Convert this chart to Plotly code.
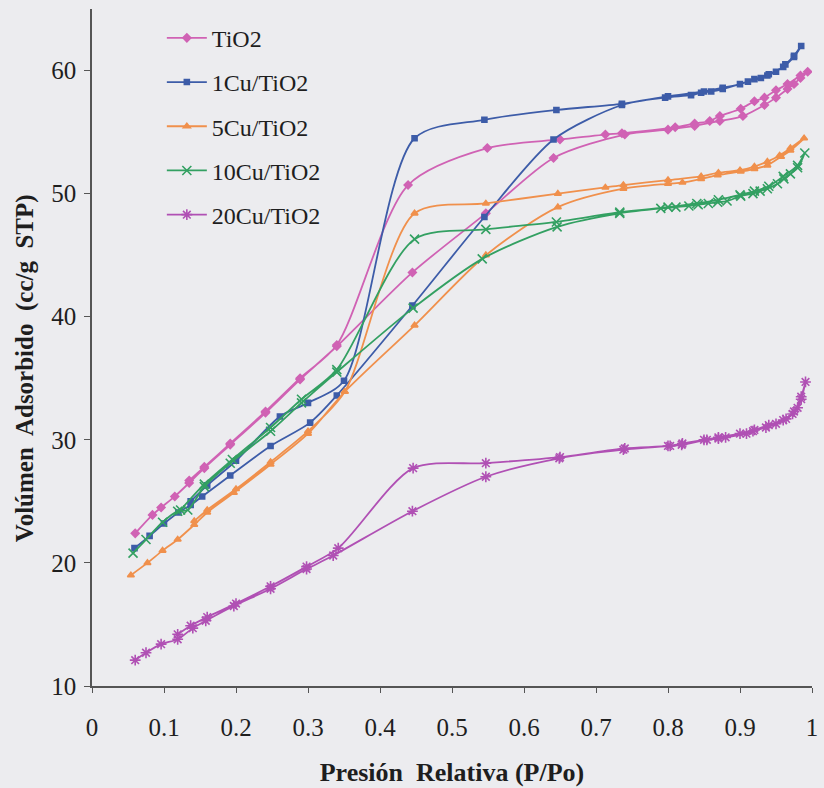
import plotly.graph_objects as go

# ---------------- data ----------------
names = ["TiO2", "1Cu/TiO2", "5Cu/TiO2", "10Cu/TiO2", "20Cu/TiO2"]

# TiO2
tio2_x_ads = [0.06, 0.084, 0.096, 0.115, 0.135, 0.156, 0.192, 0.241, 0.289, 0.34, 0.445, 0.547, 0.641, 0.74, 0.80, 0.837, 0.872, 0.904, 0.934, 0.95, 0.966, 0.975, 0.984, 0.994]
tio2_y_ads = [22.4, 23.9, 24.5, 25.4, 26.5, 27.7, 29.6, 32.2, 34.9, 37.6, 43.6, 48.4, 52.9, 54.8, 55.2, 55.5, 55.9, 56.3, 57.2, 57.8, 58.5, 58.9, 59.4, 59.9]
tio2_x_des = [0.984, 0.966, 0.95, 0.934, 0.92, 0.901, 0.872, 0.858, 0.837, 0.81, 0.736, 0.713, 0.65, 0.549, 0.439, 0.34, 0.289, 0.241, 0.192, 0.156, 0.135]
tio2_y_des = [59.6, 58.9, 58.4, 57.8, 57.5, 56.9, 56.3, 55.9, 55.7, 55.4, 54.9, 54.8, 54.4, 53.7, 50.7, 37.7, 35.0, 32.3, 29.7, 27.8, 26.7]

# 1Cu/TiO2
cu1_x_ads = [0.059, 0.08, 0.1, 0.12, 0.137, 0.153, 0.192, 0.248, 0.303, 0.34, 0.445, 0.545, 0.641, 0.736, 0.796, 0.832, 0.846, 0.86, 0.876, 0.911, 0.929, 0.938, 0.95, 0.963, 0.975, 0.985]
cu1_y_ads = [21.2, 22.2, 23.2, 24.1, 24.7, 25.4, 27.1, 29.5, 31.4, 33.6, 40.9, 48.1, 54.4, 57.2, 57.8, 58.0, 58.2, 58.3, 58.5, 59.1, 59.4, 59.6, 59.9, 60.5, 61.2, 62.0]
cu1_x_des = [0.975, 0.96, 0.94, 0.92, 0.90, 0.876, 0.85, 0.80, 0.736, 0.645, 0.545, 0.448, 0.35, 0.30, 0.261, 0.2, 0.16, 0.137]
cu1_y_des = [61.1, 60.3, 59.7, 59.3, 58.9, 58.6, 58.3, 57.9, 57.3, 56.8, 56.0, 54.5, 34.8, 33.0, 31.9, 28.3, 26.3, 25.0]

# 5Cu/TiO2
cu5_x_ads = [0.054, 0.077, 0.098, 0.119, 0.142, 0.16, 0.197, 0.248, 0.30, 0.351, 0.448, 0.547, 0.647, 0.738, 0.80, 0.82, 0.846, 0.869, 0.901, 0.92, 0.938, 0.957, 0.97, 0.989]
cu5_y_ads = [19.0, 20.0, 21.0, 21.9, 23.1, 24.1, 25.7, 28.0, 30.5, 33.9, 39.3, 45.0, 48.9, 50.4, 50.8, 50.9, 51.2, 51.5, 51.8, 52.0, 52.3, 53.0, 53.5, 54.5]
cu5_x_des = [0.97, 0.955, 0.938, 0.92, 0.90, 0.87, 0.846, 0.80, 0.738, 0.713, 0.647, 0.547, 0.448, 0.351, 0.30, 0.248, 0.2, 0.16, 0.142]
cu5_y_des = [53.7, 53.1, 52.6, 52.2, 51.9, 51.7, 51.4, 51.1, 50.7, 50.5, 50.0, 49.2, 48.4, 33.9, 30.7, 28.2, 26.0, 24.3, 23.4]

# 10Cu/TiO2
cu10_x_ads = [0.057, 0.075, 0.098, 0.119, 0.133, 0.156, 0.192, 0.248, 0.291, 0.34, 0.446, 0.542, 0.646, 0.733, 0.79, 0.811, 0.829, 0.842, 0.856, 0.869, 0.882, 0.901, 0.918, 0.928, 0.938, 0.952, 0.961, 0.97, 0.98, 0.99]
cu10_y_ads = [20.8, 21.9, 23.3, 24.2, 24.3, 26.2, 28.1, 30.7, 33.0, 35.5, 40.7, 44.7, 47.3, 48.4, 48.8, 48.9, 49.0, 49.1, 49.2, 49.3, 49.4, 49.8, 50.0, 50.2, 50.4, 50.8, 51.2, 51.6, 52.1, 53.3]
cu10_x_des = [0.98, 0.96, 0.94, 0.92, 0.90, 0.87, 0.84, 0.80, 0.733, 0.645, 0.547, 0.448, 0.34, 0.291, 0.248, 0.195, 0.156, 0.123]
cu10_y_des = [52.3, 51.4, 50.6, 50.2, 49.9, 49.5, 49.2, 48.9, 48.5, 47.7, 47.1, 46.3, 35.7, 33.3, 31.0, 28.4, 26.4, 24.3]

# 20Cu/TiO2
cu20_x_ads = [0.06, 0.075, 0.096, 0.119, 0.14, 0.158, 0.197, 0.248, 0.298, 0.335, 0.445, 0.547, 0.649, 0.738, 0.803, 0.819, 0.854, 0.87, 0.88, 0.909, 0.918, 0.936, 0.95, 0.964, 0.973, 0.98, 0.985, 0.991]
cu20_y_ads = [12.1, 12.7, 13.4, 13.8, 14.7, 15.3, 16.5, 17.9, 19.5, 20.6, 24.2, 27.0, 28.5, 29.2, 29.5, 29.6, 30.0, 30.1, 30.2, 30.5, 30.7, 31.0, 31.3, 31.7, 32.1, 32.6, 33.3, 34.7]
cu20_x_des = [0.985, 0.975, 0.96, 0.94, 0.92, 0.90, 0.87, 0.85, 0.82, 0.80, 0.74, 0.65, 0.547, 0.446, 0.342, 0.298, 0.248, 0.2, 0.16, 0.137, 0.119]
cu20_y_des = [33.5, 32.3, 31.6, 31.2, 30.8, 30.5, 30.2, 30.0, 29.7, 29.5, 29.3, 28.6, 28.1, 27.7, 21.2, 19.7, 18.1, 16.7, 15.6, 14.9, 14.2]

x_ticks = [0, 0.1, 0.2, 0.3, 0.4, 0.5, 0.6, 0.7, 0.8, 0.9, 1]
x_tick_text = ["0", "0.1", "0.2", "0.3", "0.4", "0.5", "0.6", "0.7", "0.8", "0.9", "1"]
y_ticks = [10, 20, 30, 40, 50, 60]

x_title = "Presión  Relativa (P/Po)"
y_title = "Volúmen  Adsorbido  (cc/g  STP)"

# ---------------- styling ----------------
series = [
    (names[0], tio2_x_ads + tio2_x_des, tio2_y_ads + tio2_y_des, "#D062B4", "diamond", 6),
    (names[1], cu1_x_ads + cu1_x_des, cu1_y_ads + cu1_y_des, "#3D5CA8", "square", 5),
    (names[2], cu5_x_ads + cu5_x_des, cu5_y_ads + cu5_y_des, "#F0904C", "triangle-up", 6),
    (names[3], cu10_x_ads + cu10_x_des, cu10_y_ads + cu10_y_des, "#33A062", "x-thin-open", 9),
    (names[4], cu20_x_ads + cu20_x_des, cu20_y_ads + cu20_y_des, "#B050B4", "asterisk-open", 9),
]

fig = go.Figure()
for i, (nm, xs, ys, col, sym, sz) in enumerate(series):
    fig.add_trace(go.Scatter(
        x=xs, y=ys, name=nm, mode="lines+markers",
        legendgroup=f"g{i}",
        line=dict(color=col, width=1.8, shape="spline", smoothing=0.8),
        marker=dict(symbol=sym, size=sz, color=col, line=dict(color=col, width=1.6)),
    ))

bg = "#ECECEF"
font_family = "'Liberation Serif', 'DejaVu Serif', serif"
fig.update_layout(
    width=824, height=788,
    margin=dict(l=92, r=6, t=9, b=99),
    paper_bgcolor=bg, plot_bgcolor=bg,
    font=dict(family=font_family, size=24, color="#1E1E1E"),
    showlegend=True,
    legend=dict(x=0.097, y=0.99, xanchor="left", yanchor="top",
                bgcolor="rgba(0,0,0,0)", font=dict(family=font_family, size=24, color="#1E1E1E"),
                tracegroupgap=10, itemwidth=40),
    xaxis=dict(range=[0, 1], tickvals=x_ticks, ticktext=x_tick_text,
               showgrid=False, zeroline=False, showline=True, linecolor="#555555", linewidth=1.5,
               ticks="outside", ticklen=5, tickcolor="#555555", ticklabelstandoff=13,
               ticklabeloverflow="allow",
               tickfont=dict(family=font_family, size=25),
               title=dict(text="<b>" + x_title + "</b>", font=dict(family=font_family, size=26), standoff=23)),
    yaxis=dict(range=[10, 65], tickvals=y_ticks,
               showgrid=False, zeroline=False, showline=True, linecolor="#555555", linewidth=1.5,
               ticks="outside", ticklen=6, tickcolor="#555555", ticklabelstandoff=3,
               tickfont=dict(family=font_family, size=25)),
    annotations=[dict(text="<b>" + y_title + "</b>", textangle=-90,
                      xref="paper", yref="paper", x=-0.094, y=0.47,
                      xanchor="center", yanchor="middle", showarrow=False,
                      font=dict(family=font_family, size=25, color="#1E1E1E"))],
)

fig.write_html("out.html")
